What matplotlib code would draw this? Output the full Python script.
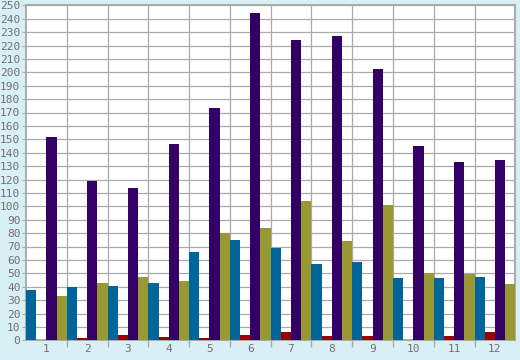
import numpy as np
import matplotlib
matplotlib.use("Agg")
import matplotlib.pyplot as plt

# ---------------------------------------------------------------------------- #
#                                     Data                                     #
# ---------------------------------------------------------------------------- #
categories = ["1", "2", "3", "4", "5", "6", "7", "8", "9", "10", "11", "12"]
blue_vals = [37.5, 39.8, 40.5, 42.8, 65.9, 74.8, 68.9, 56.9, 58.4, 46.5, 46.5, 47.2]
red_vals = [0.5, 1.7, 4.0, 2.5, 1.7, 4.0, 6.2, 3.2, 3.2, 0.3, 3.2, 6.2]
purple_vals = [151.7, 118.9, 113.7, 146.5, 173.4, 244.3, 224.1, 227.1, 202.5, 145.0, 133.0, 134.5]
olive_vals = [33.0, 42.8, 47.2, 44.3, 80.0, 83.8, 104.0, 74.1, 101.0, 50.2, 49.5, 42.0]

series = [blue_vals, red_vals, purple_vals, olive_vals]
colors = ["#006699", "#990000", "#330066", "#999933"]

BG = "#d9eff6"
GRID = "#aaaaaa"
TEXT = "#707070"

# ---------------------------------------------------------------------------- #
#                                   plotting                                   #
# ---------------------------------------------------------------------------- #
fig = plt.figure(figsize=(5.2, 3.6), dpi=100, facecolor=BG)
ax = fig.add_axes([26 / 520, 19.7 / 360, 489.3 / 520, 335 / 360])
ax.set_facecolor("white")

x = np.arange(len(categories))
w = 0.25
for i, (vals, c) in enumerate(zip(series, colors)):
    ax.bar(x - 0.5 + w * i, vals, width=w, align="edge", color=c, zorder=3)

ax.set_xlim(-0.5, len(categories) - 0.5)
ax.set_ylim(0, 250)

ax.set_yticks(np.arange(0, 251, 10))
ax.set_xticks(x[:-1] + 0.5)
ax.set_xticklabels([])
ax.set_xticks(x, minor=True)
ax.set_xticklabels(categories, minor=True)

ax.grid(True, which="major", color=GRID, linewidth=0.9, zorder=0)
for s in ax.spines.values():
    s.set_color(GRID)
    s.set_linewidth(1.4)

ax.tick_params(axis="y", which="major", length=3, color=GRID, labelcolor=TEXT,
               labelsize=8, pad=1)
ax.tick_params(axis="x", which="major", length=5, color=GRID, width=1.0)
ax.tick_params(axis="x", which="minor", length=0, labelcolor=TEXT,
               labelsize=8, pad=3)
for lbl in ax.get_yticklabels() + ax.get_xticklabels(minor=True):
    lbl.set_family("DejaVu Sans Mono")

fig.savefig("out.png", dpi=100, facecolor=BG)
